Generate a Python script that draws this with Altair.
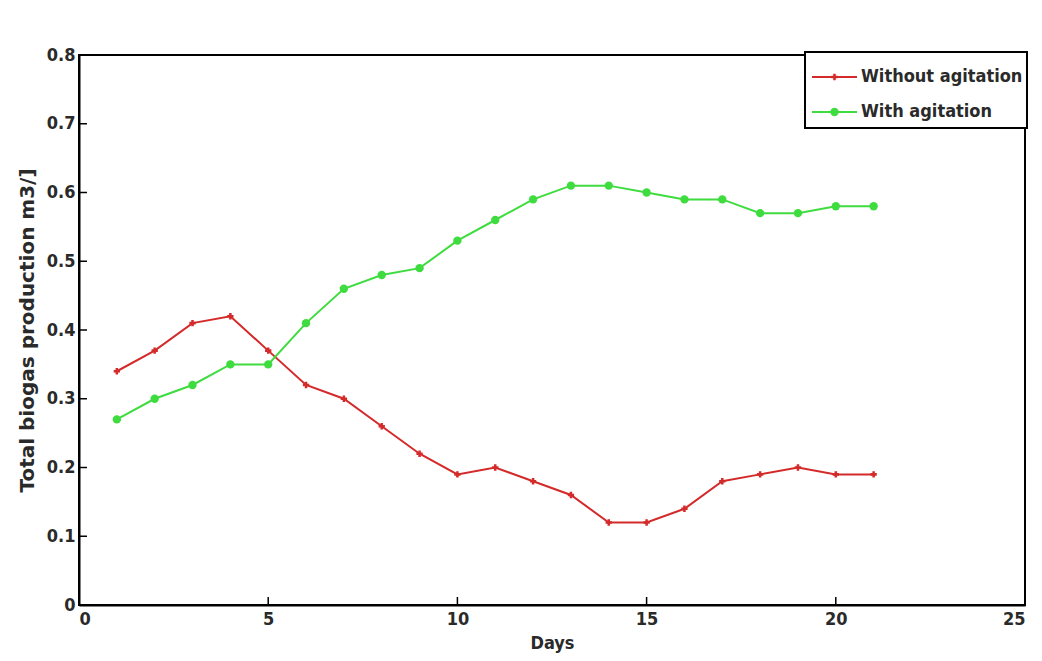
import altair as alt
import pandas as pd

days = list(range(1, 22))
without_agitation = [0.34, 0.37, 0.41, 0.42, 0.37, 0.32, 0.30, 0.26, 0.22, 0.19, 0.20,
                     0.18, 0.16, 0.12, 0.12, 0.14, 0.18, 0.19, 0.20, 0.19, 0.19]
with_agitation = [0.27, 0.30, 0.32, 0.35, 0.35, 0.41, 0.46, 0.48, 0.49, 0.53, 0.56,
                  0.59, 0.61, 0.61, 0.60, 0.59, 0.59, 0.57, 0.57, 0.58, 0.58]
series_names = ["Without agitation", "With agitation"]
series_colors = ["#d42a2a", "#3fdc3f"]
x_ticks = [0, 5, 10, 15, 20, 25]
y_ticks = [0, 0.1, 0.2, 0.3, 0.4, 0.5, 0.6, 0.7, 0.8]

df = pd.DataFrame({
    "Days": days * 2,
    "value": without_agitation + with_agitation,
    "series": [series_names[0]] * len(days) + [series_names[1]] * len(days),
})

FONT = "DejaVu Sans Condensed, Liberation Sans, sans-serif"
TFONT = "DejaVu Sans, Liberation Sans, sans-serif"
TXT = "#2a2a2a"
W, H = 946, 550

xs = alt.Scale(domain=[0, 25], nice=False, zero=False)
ys = alt.Scale(domain=[0, 0.8], nice=False)
cs = alt.Scale(domain=series_names, range=series_colors)

x_axis = alt.Axis(values=x_ticks, title="Days", tickSize=0, labelPadding=5,
                  labelFontSize=18, labelFontWeight="bold", titleFontSize=18,
                  titleFontWeight="bold", titlePadding=6, labelFont=FONT,
                  titleFont=FONT, labelColor=TXT, titleColor=TXT,
                  domainColor="black", domainWidth=2, grid=False)
y_axis = alt.Axis(values=y_ticks, title="Total biogas production m3/]", tickSize=0,
                  labelPadding=4, labelFontSize=18, labelFontWeight="bold",
                  titleFontSize=20, titleFontWeight="bold", titlePadding=9,
                  labelFont=FONT, titleFont=TFONT, labelColor=TXT, titleColor=TXT,
                  domainColor="black", domainWidth=2, grid=False, format="~g")

base = alt.Chart(df)
lines = base.mark_line(strokeWidth=2).encode(
    x=alt.X("Days:Q", scale=xs, axis=x_axis),
    y=alt.Y("value:Q", scale=ys, axis=y_axis),
    color=alt.Color("series:N", scale=cs, legend=None),
)
pts_without = base.transform_filter(alt.datum.series == series_names[0]).mark_point(
    shape="cross", filled=True, size=40, opacity=1).encode(
    x=alt.X("Days:Q", scale=xs), y=alt.Y("value:Q", scale=ys),
    color=alt.Color("series:N", scale=cs, legend=None))
pts_with = base.transform_filter(alt.datum.series == series_names[1]).mark_point(
    shape="circle", filled=True, size=70, opacity=1).encode(
    x=alt.X("Days:Q", scale=xs), y=alt.Y("value:Q", scale=ys),
    color=alt.Color("series:N", scale=cs, legend=None))

# inward ticks
xt = pd.DataFrame({"t": x_ticks})
yt = pd.DataFrame({"t": y_ticks})
xtick_marks = alt.Chart(xt).mark_rule(color="black", strokeWidth=1.5).encode(
    x=alt.X("t:Q", scale=xs), y=alt.value(H), y2=alt.value(H - 8))
ytick_marks = alt.Chart(yt).mark_rule(color="black", strokeWidth=1.5).encode(
    y=alt.Y("t:Q", scale=ys), x=alt.value(0), x2=alt.value(8))

# legend (drawn inside the plot, top right)
LX0, LX1, LY0, LY1 = 726, 948, -3, 73
leg_box = alt.Chart(pd.DataFrame({"a": [0]})).mark_rect(
    fill="white", stroke="black", strokeWidth=2).encode(
    x=alt.value(LX0), x2=alt.value(LX1), y=alt.value(LY0), y2=alt.value(LY1))
leg_rows = []
for i, name in enumerate(series_names):
    yy = 22 + i * 35
    d = alt.Chart(pd.DataFrame({"series": [name]}))
    leg_rows.append(d.mark_rule(strokeWidth=2, color=series_colors[i]).encode(
        x=alt.value(733), x2=alt.value(778), y=alt.value(yy)))
    leg_rows.append(d.mark_point(shape="cross" if i == 0 else "circle", filled=True,
                                 size=40 if i == 0 else 70, opacity=1,
                                 color=series_colors[i]).encode(
        x=alt.value(755.5), y=alt.value(yy)))
    leg_rows.append(d.mark_text(align="left", baseline="middle", font=FONT,
                                fontSize=18, fontWeight="bold", color=TXT).encode(
        x=alt.value(782), y=alt.value(yy), text="series:N"))

chart = alt.layer(lines, pts_without, pts_with, xtick_marks, ytick_marks,
                  leg_box, *leg_rows).properties(
    width=W, height=H,
    autosize=alt.AutoSizeParams(type="none"),
    padding={"left": 79, "top": 55, "right": 17, "bottom": 56},
    background="white",
).configure_view(stroke="black", strokeWidth=2)

chart.save("out.html", embed_options={"renderer": "svg", "actions": False})
